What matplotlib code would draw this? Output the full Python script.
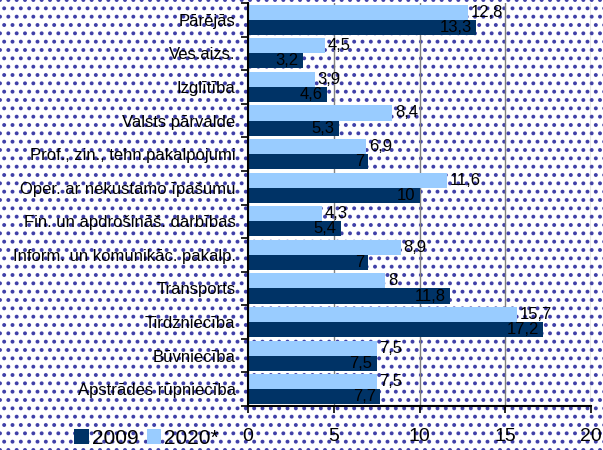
import matplotlib.pyplot as plt
from matplotlib.patches import Rectangle, Patch

plt.rcParams['font.family'] = ['Liberation Sans', 'DejaVu Sans']
plt.rcParams['hatch.linewidth'] = 1.6

categories = ["Pārējās", "Ves.aizs.", "Izglītība", "Valsts pārvalde",
              "Prof., zin., tehn.pakalpojumi", "Oper. ar nekustamo īpašumu",
              "Fin. un apdrošināš. darbības", "Inform. un komunikāc. pakalp.",
              "Transports", "Tirdzniecība", "Būvniecība", "Apstrādes rūpniecība"]
vals_2020 = [12.8, 4.5, 3.9, 8.4, 6.9, 11.6, 4.3, 8.9, 8, 15.7, 7.5, 7.5]
vals_2009 = [13.3, 3.2, 4.6, 5.3, 7, 10, 5.4, 7, 11.8, 17.2, 7.5, 7.7]
x_ticks = [0, 5, 10, 15, 20]

light = "#99ccff"
dark = "#003366"
dots = "#4040a8"

def fmt(v):
    return f"{v:g}".replace(".", ",")

fig = plt.figure(figsize=(6.03, 4.5), dpi=100)
fig.patch.set_facecolor("white")
bg = Rectangle((0, 0), 1, 1, transform=fig.transFigure, facecolor="white",
               edgecolor=dots, hatch="..", lw=0, zorder=-10)
fig.patches.append(bg)

ax = fig.add_axes([248/603, 1-406/450, (591-248)/603, (406-3)/450])
ax.set_facecolor("none")

pos = list(range(len(categories)))
h = 0.45
b1 = ax.barh([p - h/2 for p in pos], vals_2020, height=h, color=light, zorder=3)
b2 = ax.barh([p + h/2 for p in pos], vals_2009, height=h, color=dark, zorder=3)

for rect, v in zip(b1, vals_2020):
    ax.annotate(fmt(v), (v, rect.get_y() + rect.get_height()/2),
                xytext=(2, 0), textcoords="offset points",
                ha="left", va="center", fontsize=12, zorder=4)
for rect, v in zip(b2, vals_2009):
    ax.annotate(fmt(v), (v, rect.get_y() + rect.get_height()/2),
                xytext=(-3, 0), textcoords="offset points",
                ha="right", va="center", fontsize=12, color="black", zorder=4)

ax.set_ylim(len(categories) - 0.5, -0.5)
ax.set_yticks(pos)
ax.set_yticklabels(categories, fontsize=12)
ax.tick_params(axis="y", which="major", length=0, pad=9)
ax.set_yticks([p - 0.5 for p in pos] + [len(pos) - 0.5], minor=True)
ax.tick_params(axis="y", which="minor", length=5, width=1.2, direction="out")

ax.set_xlim(0, 20)
ax.set_xticks(x_ticks)
ax.tick_params(axis="x", length=5, width=1.2, direction="out", pad=11, labelsize=14)

ax.grid(axis="x", color="#808080", lw=1, zorder=1)
for s in ["top", "right"]:
    ax.spines[s].set_visible(False)
for s in ["left", "bottom"]:
    ax.spines[s].set_linewidth(1.5)
    ax.spines[s].set_zorder(5)

handles = [Patch(facecolor=dark, label="2009"), Patch(facecolor=light, label="2020*")]
fig.legend(handles=handles, loc="center left", bbox_to_anchor=(74/603, 1-438/450),
           ncol=2, frameon=False, fontsize=15, handlelength=0.7, handleheight=0.7,
           handletextpad=0.15, columnspacing=0.4, borderpad=0, borderaxespad=0)

fig.savefig("out.png", dpi=100)
